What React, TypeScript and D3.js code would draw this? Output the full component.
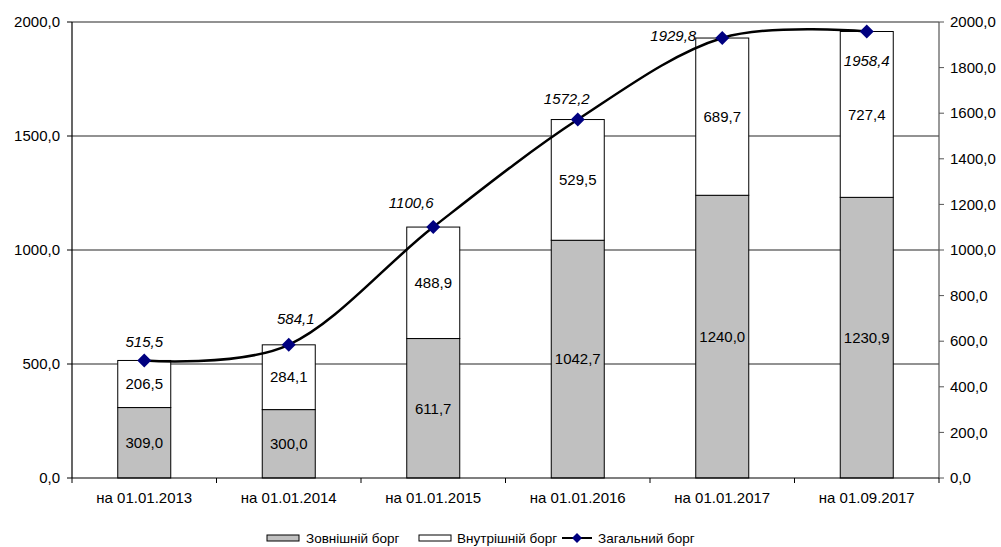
import React from "react";
import * as d3 from "d3";

const categories = ["на 01.01.2013", "на 01.01.2014", "на 01.01.2015", "на 01.01.2016", "на 01.01.2017", "на 01.09.2017"];
const external = [309.0, 300.0, 611.7, 1042.7, 1240.0, 1230.9];
const internal = [206.5, 284.1, 488.9, 529.5, 689.7, 727.4];
const total = [515.5, 584.1, 1100.6, 1572.2, 1929.8, 1958.4];
const leftTicks = [0, 500, 1000, 1500, 2000];
const rightTicks = [0, 200, 400, 600, 800, 1000, 1200, 1400, 1600, 1800, 2000];
const legendLabels = ["Зовнішній борг", "Внутрішній борг", "Загальний борг"];

// label offsets for total values (style/positioning)
const totalLabelOffsets: [number, number][] = [
  [0, -19], [7, -26], [-22, -24], [-11, -21], [-49, -2], [0, 29],
];

const fmt = (v: number) => v.toFixed(1).replace(".", ",");

export default function App() {
  const W = 1001, H = 547;
  const left = 72, right = 939, top = 22, bottom = 478;
  const x = d3.scaleBand<string>().domain(categories).range([left, right]).paddingInner(0).paddingOuter(0);
  const y = d3.scaleLinear().domain([0, 2000]).range([bottom, top]);
  const bw = 53;
  const font = "'Liberation Sans', Arial, sans-serif";
  const cx = (i: number) => (x(categories[i]) as number) + x.bandwidth() / 2;

  const line = d3.line<number>()
    .x((_, i) => cx(i))
    .y((d) => y(d))
    .curve(d3.curveCardinal.tension(0));

  const diamond = (px: number, py: number, r = 7) =>
    `M${px},${py - r}L${px + r},${py}L${px},${py + r}L${px - r},${py}Z`;

  const bounds = d3.range(categories.length + 1).map((i) => left + i * x.bandwidth());

  return (
    <svg width={W} height={H} style={{ position: "absolute", left: 0, top: 0, background: "#fff" }} fontFamily={font}>
      {/* gridlines */}
      {leftTicks.filter((t) => t > 0).map((t) => (
        <line key={"g" + t} x1={left} x2={right} y1={y(t)} y2={y(t)} stroke="#6e6e6e" strokeWidth={1.3} />
      ))}
      {/* bars */}
      {categories.map((c, i) => {
        const bx = cx(i) - bw / 2;
        return (
          <g key={c}>
            <rect x={bx} y={y(external[i])} width={bw} height={y(0) - y(external[i])} fill="#c0c0c0" stroke="#000" strokeWidth={1} />
            <rect x={bx} y={y(external[i] + internal[i])} width={bw} height={y(external[i]) - y(external[i] + internal[i])} fill="#fff" stroke="#000" strokeWidth={1} />
            <text x={cx(i)} y={(y(0) + y(external[i])) / 2} dy="0.35em" textAnchor="middle" fontSize={15}>{fmt(external[i])}</text>
            <text x={cx(i)} y={(y(external[i]) + y(external[i] + internal[i])) / 2} dy="0.35em" textAnchor="middle" fontSize={15}>{fmt(internal[i])}</text>
          </g>
        );
      })}
      {/* axes */}
      <line x1={left} x2={left} y1={top} y2={bottom} stroke="#000" strokeWidth={1.2} />
      <line x1={right} x2={right} y1={top} y2={bottom} stroke="#555" strokeWidth={1.2} />
      <line x1={left} x2={right} y1={bottom} y2={bottom} stroke="#000" strokeWidth={1.2} />
      {leftTicks.map((t) => (
        <g key={"l" + t}>
          <line x1={left - 5} x2={left} y1={y(t)} y2={y(t)} stroke="#000" />
          <text x={left - 12} y={y(t)} dy="0.35em" textAnchor="end" fontSize={15}>{fmt(t)}</text>
        </g>
      ))}
      {rightTicks.map((t) => (
        <g key={"r" + t}>
          <line x1={right} x2={right + 5} y1={y(t)} y2={y(t)} stroke="#555" />
          <text x={right + 11} y={y(t)} dy="0.35em" textAnchor="start" fontSize={15}>{fmt(t)}</text>
        </g>
      ))}
      {bounds.map((b, i) => (
        <line key={"xb" + i} x1={b} x2={b} y1={bottom} y2={bottom + 5} stroke="#000" />
      ))}
      {categories.map((c, i) => (
        <text key={"xl" + c} x={cx(i)} y={498} dy="0.35em" textAnchor="middle" fontSize={15}>{c}</text>
      ))}
      {/* total line */}
      <path d={line(total) || ""} fill="none" stroke="#000" strokeWidth={2.5} />
      {total.map((v, i) => (
        <path key={"m" + i} d={diamond(cx(i), y(v))} fill="#000080" />
      ))}
      {total.map((v, i) => (
        <text key={"tl" + i} x={cx(i) + totalLabelOffsets[i][0]} y={y(v) + totalLabelOffsets[i][1]} dy="0.35em"
          textAnchor="middle" fontSize={15} fontStyle="italic">{fmt(v)}</text>
      ))}
      {/* legend */}
      <g fontSize={13.5}>
        <rect x={267} y={535} width={32} height={6} fill="#c0c0c0" stroke="#000" />
        <text x={306} y={538} dy="0.35em">{legendLabels[0]}</text>
        <rect x={419} y={535} width={32} height={6} fill="#fff" stroke="#000" />
        <text x={457} y={538} dy="0.35em">{legendLabels[1]}</text>
        <line x1={562} x2={592} y1={538} y2={538} stroke="#000" strokeWidth={2} />
        <path d={diamond(577, 538, 5)} fill="#000080" />
        <text x={598} y={538} dy="0.35em">{legendLabels[2]}</text>
      </g>
    </svg>
  );
}
